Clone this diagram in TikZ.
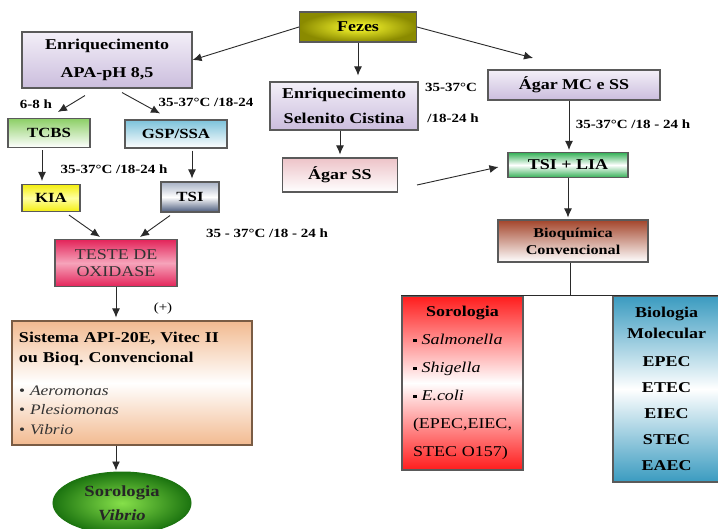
\documentclass[tikz,border=0pt]{standalone}
\usepackage{fontspec}
\setmainfont{Liberation Serif}[FakeStretch=1.2]
\usetikzlibrary{arrows.meta,shapes.geometric,calc}
\frenchspacing
\definecolor{bord}{HTML}{5A5A5A}
\definecolor{arrc}{HTML}{2A2A2A}
\definecolor{olivec}{HTML}{8A8A00}
\definecolor{yelc}{HTML}{FFFF30}
\definecolor{lavtop}{HTML}{F3EFF8}
\definecolor{lavbot}{HTML}{CBBDDD}
\definecolor{tcbsg}{HTML}{8CCF66}
\definecolor{gspb}{HTML}{7CC2DA}
\definecolor{kiay}{HTML}{F4EE10}
\definecolor{tsib}{HTML}{4A5A7C}
\definecolor{tsil}{HTML}{A8B2C6}
\definecolor{testr}{HTML}{E3245A}
\definecolor{testl}{HTML}{F6A3BA}
\definecolor{peach}{HTML}{F2BA90}
\definecolor{sisb}{HTML}{7A5C44}
\definecolor{gdark}{HTML}{1C7410}
\definecolor{glight}{HTML}{86E04A}
\definecolor{pinkt}{HTML}{EDC3C8}
\definecolor{liag}{HTML}{34B056}
\definecolor{brown}{HTML}{A3452B}
\definecolor{redc}{HTML}{FF1C1C}
\definecolor{bluec}{HTML}{3A9BC0}
\definecolor{itgray}{HTML}{333333}
\begin{document}
\begin{tikzpicture}[x=1pt,y=-1pt,
  box/.style={draw=bord, line width=1.1pt, inner sep=2pt, align=center,
    font=\bfseries\fontsize{15}{18}\selectfont},
  lav/.style={box, top color=lavtop, bottom color=lavbot},
  arr/.style={-{Latex[length=9pt,width=8pt]}, line width=0.9pt, draw=arrc},
  ln/.style={line width=0.9pt, draw=arrc},
  lbl/.style={font=\bfseries\fontsize{12.5}{14}\selectfont, inner sep=0pt}]
\useasboundingbox (0,0) rectangle (718,529);
\fill[white] (0,0) rectangle (718,529);

% nodes
\node[box, minimum width=117pt, minimum height=30pt, inner color=yelc, outer color=olivec] (fezes) at (358,27) {Fezes};
\node[lav, minimum width=170pt, minimum height=56pt, font=\bfseries\fontsize{15}{28}\selectfont] (apa) at (107,60) {Enriquecimento\\APA-pH 8,5};
\node[lav, minimum width=148pt, minimum height=48pt, font=\bfseries\fontsize{15}{25}\selectfont] (sel) at (344,106) {Enriquecimento\\Selenito Cistina};
\node[lav, minimum width=172pt, minimum height=30pt] (mc) at (574,85) {Ágar MC e SS};
\node[box, minimum width=82pt, minimum height=29pt, top color=tcbsg, bottom color=white, font=\bfseries\fontsize{14}{16}\selectfont] (tcbs) at (49,133) {TCBS};
\node[box, minimum width=102pt, minimum height=28pt, top color=gspb, bottom color=white, font=\bfseries\fontsize{14}{16}\selectfont] (gsp) at (176,134) {GSP/SSA};
\node[box, minimum width=58pt, minimum height=27pt, top color=kiay, bottom color=kiay, middle color=yelc!45!white, font=\bfseries\fontsize{14}{16}\selectfont] (kia) at (51,198) {KIA};
\node[box, minimum width=58pt, minimum height=30pt, top color=tsil, bottom color=tsib, middle color=white, font=\bfseries\fontsize{14}{16}\selectfont] (tsi) at (190,197) {TSI};
\node[box, minimum width=122pt, minimum height=47pt, top color=testr, bottom color=testr, middle color=testl, text=itgray, font=\fontsize{15}{17}\selectfont] (teste) at (116,263) {TESTE DE\\OXIDASE};
\node[box, minimum width=240pt, minimum height=124pt, text width=226pt, align=left, draw=sisb, top color=peach, bottom color=peach, middle color=white, font=\bfseries\fontsize{15}{20}\selectfont] (sis) at (132,383)
  {Sistema API-20E, Vitec II\\ou Bioq. Convencional\\[14pt]
   {\normalfont\itshape\fontsize{14.5}{19}\selectfont\color{itgray}\textbullet\ Aeromonas\\\textbullet\ Plesiomonas\\\textbullet\ Vibrio}};
\node[ellipse, draw=gdark, line width=1pt, inner color=glight, outer color=gdark, minimum width=138pt, minimum height=62pt, align=center, font=\bfseries\fontsize{15.5}{24}\selectfont, text=black!85] (sorv) at (122,503) {Sorologia\\\textit{Vibrio}};
\node[box, minimum width=115pt, minimum height=34pt, top color=pinkt, bottom color=white] (agss) at (340,175) {Ágar SS};
\node[box, minimum width=120pt, minimum height=25pt, top color=liag, bottom color=liag, middle color=white] (tsilia) at (568,165) {TSI + LIA};
\node[box, minimum width=150pt, minimum height=42pt, top color=brown, bottom color=white, font=\bfseries\fontsize{13.5}{17}\selectfont] (bioq) at (573,241) {Bioquímica\\Convencional};
\node[box, minimum width=121pt, minimum height=174pt, text width=99pt, align=left, top color=redc, bottom color=redc, middle color=white, font=\fontsize{15}{28}\selectfont] (soro) at (462.5,383)
  {\makebox[\linewidth][c]{\bfseries Sorologia}\\
   \rule[2.5pt]{3.5pt}{3.5pt} \textit{Salmonella}\\
   \rule[2.5pt]{3.5pt}{3.5pt} \textit{Shigella}\\
   \rule[2.5pt]{3.5pt}{3.5pt} \textit{E.coli}\\
   (EPEC,EIEC,\\STEC O157)};
\node[box, minimum width=107pt, minimum height=186pt, top color=bluec, bottom color=bluec, middle color=white, font=\bfseries\fontsize{15}{21}\selectfont] (biom) at (666.5,389)
  {Biologia\\Molecular\\[7pt]EPEC\\[5pt]ETEC\\[5pt]EIEC\\[5pt]STEC\\[5pt]EAEC};

% labels
\node[lbl] (l68) at (36,104) {6-8 h};
\node[lbl] (l1) at (206,102) {35-37°C /18-24};
\node[lbl] (l2) at (114,169) {35-37°C /18-24 h};
\node[lbl] (l3) at (267,233) {35 - 37°C /18 - 24 h};
\node[font=\fontsize{12.5}{14}\selectfont, inner sep=0pt] (lp) at (163,308) {(+)};
\node[lbl] (l4) at (451,87) {35-37°C};
\node[lbl] (l5) at (453,118) {/18-24 h};
\node[lbl] (l6) at (633,124) {35-37°C /18 - 24 h};

% connectors
\coordinate (mcin) at (533,58);
\draw[arr] (fezes.west) -- (apa.east);
\draw[arr] (fezes.east) -- (mcin);
\draw[arr, shorten >=6pt] (fezes.south) -- (fezes.south |- sel.north);
\draw[arr] ($(apa.south)+(-22,7)$) -- ($(tcbs.north)+(9,-6)$);
\draw[arr] ($(apa.south)+(15,4)$) -- ($(gsp.north)+(-16,-6)$);
\draw[arr] ($(tcbs.south)+(-7,2)$) -- ($(kia.north)+(-9,-3)$);
\draw[arr] ($(gsp.south -| tsi.north)+(2,2)$) -- ($(tsi.north)+(2,-3)$);
\draw[arr] ($(kia.south)+(18,3)$) -- ($(teste.north)+(-16,-2)$);
\draw[arr] ($(tsi.south)+(-20,3)$) -- ($(teste.north)+(24,-2)$);
\draw[arr] (teste.south) -- ($(teste.south |- sis.north)+(0,-3)$);
\draw[arr] (sis.south -| teste.south) -- ($(sorv.north -| teste.south)+(0,-1)$);
\draw[arr] (sel.south -| agss.north) -- ($(agss.north)+(0,-3)$);
\draw[arr] ($(mc.south -| tsilia.north)+(1,0)$) -- ($(tsilia.north)+(1,-2)$);
\draw[arr] ($(agss.east)+(19,10)$) -- ($(tsilia.west)+(-9,2)$);
\draw[arr] (tsilia.south) -- ($(tsilia.south |- bioq.north)+(0,-2)$);
\draw[ln] ($(tsilia.south |- bioq.south)+(2,0)$) -- ($(tsilia.south |- soro.north)+(2,0)$);
\draw[ln] (soro.north west) -- (biom.north east);
\end{tikzpicture}
\end{document}
